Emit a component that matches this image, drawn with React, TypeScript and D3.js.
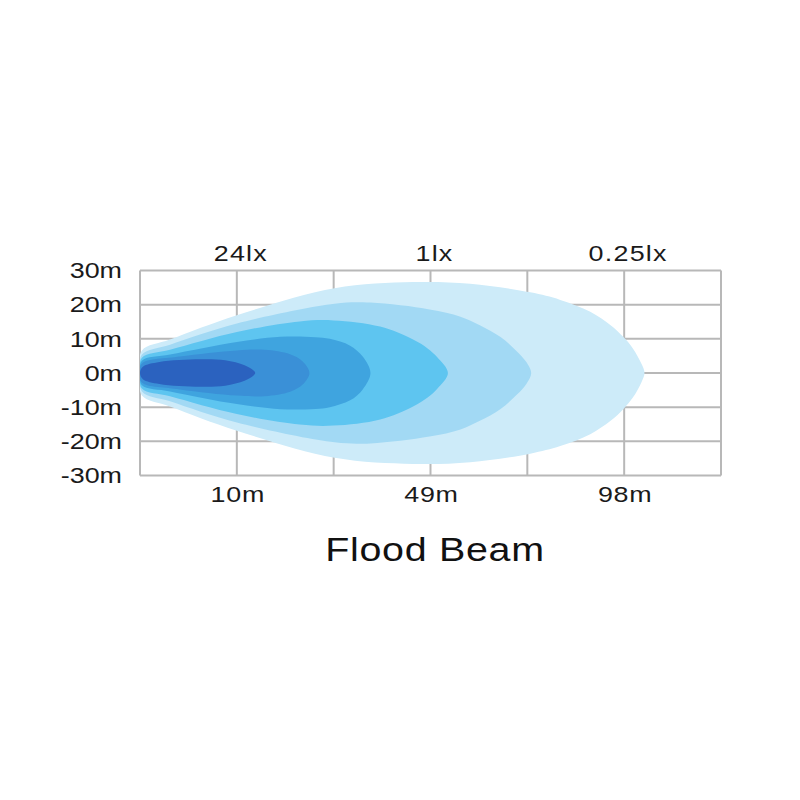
import React from "react";
import * as d3 from "d3";

// Column index 0..6 along the throw; labels at some columns
const distanceLabels = [
  { col: 1, text: "10m" },
  { col: 3, text: "49m" },
  { col: 5, text: "98m" },
];
const luxLabels = [
  { col: 1, text: "24lx" },
  { col: 3, text: "1lx" },
  { col: 5, text: "0.25lx" },
];
const yTicks = [30, 20, 10, 0, -10, -20, -30];
const xCols = [0, 1, 2, 3, 4, 5, 6];

// Upper half-profiles of each isolux zone: [column, metres]
const zoneOuter: [number, number][] = [
  [0, 0], [0.02, 6.6], [0.31, 9.8], [1.0, 16.9], [2.01, 24.8], [2.82, 26.6],
  [3.41, 26.1], [4.03, 23.6], [4.34, 21.4], [4.65, 17.9], [4.86, 14.0], [4.99, 10.6],
  [5.09, 7.2], [5.18, 2.6], [5.21, 0],
];
const zone2: [number, number][] = [
  [0, 0], [0.02, 5.4], [0.31, 8.3], [1.0, 14.5], [2.01, 20.3], [2.38, 20.6],
  [2.99, 18.6], [3.31, 16.5], [3.51, 14.0], [3.72, 10.6], [3.89, 6.4], [3.99, 3.2], [4.04, 0],
];
const zone3: [number, number][] = [
  [0, 0], [0.02, 4.5], [0.31, 6.8], [1.0, 12.0], [1.65, 15.1], [2.0, 15.4],
  [2.48, 13.6], [2.82, 9.8], [2.97, 7.2], [3.07, 4.6], [3.18, 0],
];
const zone4: [number, number][] = [
  [0, 0], [0.02, 3.6], [0.31, 5.4], [1.0, 9.1], [1.45, 10.6], [1.81, 10.5],
  [1.96, 10.0], [2.17, 8.0], [2.30, 4.8], [2.38, 0],
];
const zone5: [number, number][] = [
  [0, 0], [0.02, 2.8], [0.41, 4.8], [1.0, 6.6], [1.29, 6.8], [1.55, 5.5], [1.68, 3.4], [1.75, 0],
];
const zoneInner: [number, number][] = [
  [0, 0], [0.03, 1.8], [0.2, 3.2], [0.62, 4.0], [0.88, 3.7], [1.08, 2.25], [1.17, 0.8], [1.19, 0],
];
const zones = [zoneOuter, zone2, zone3, zone4, zone5, zoneInner];
const zoneColors = ["#cdebf9", "#a2d9f4", "#5ec5f0", "#3fa4df", "#3a90d7", "#2b62bf"];

const FONT = "'Liberation Sans', Arial, Helvetica, sans-serif";

function WideText(props: {
  x: number;
  y: number;
  anchor: "start" | "middle" | "end";
  size: number;
  sx: number;
  spacing?: number;
  children: string;
  fill?: string;
}) {
  return (
    <text
      transform={`translate(${props.x},${props.y}) scale(${props.sx},1)`}
      textAnchor={props.anchor}
      fontFamily={FONT}
      fontSize={props.size}
      letterSpacing={props.spacing || 0}
      fill={props.fill || "#1a1a1a"}
    >
      {props.children}
    </text>
  );
}

export default function App() {
  const x = d3.scaleLinear().domain([0, 6]).range([140, 721]);
  const y = d3.scaleLinear().domain([-30, 30]).range([475.5, 270.5]);
  const line = d3
    .line<[number, number]>()
    .x((d) => x(d[0]))
    .y((d) => y(d[1]))
    .curve(d3.curveCatmullRomClosed.alpha(0.5));

  const shapePath = (prof: [number, number][]) => {
    const bottom = prof
      .slice(1, prof.length - 1)
      .reverse()
      .map((p) => [p[0], -p[1]] as [number, number]);
    return line([...prof, ...bottom]) || "";
  };

  const grid = "#b8b8b8";
  return (
    <svg
      width={800}
      height={800}
      style={{ position: "absolute", left: 0, top: 0, background: "#fff" }}
    >
      <defs>
        <clipPath id="plot">
          <rect x={x(0)} y={y(30) - 1} width={x(6) - x(0)} height={y(-30) - y(30) + 2} />
        </clipPath>
      </defs>
      {xCols.map((c) => (
        <line key={"v" + c} x1={x(c)} x2={x(c)} y1={y(30)} y2={y(-30)} stroke={grid} strokeWidth={2} />
      ))}
      {yTicks.map((t) => (
        <line key={"h" + t} x1={x(0)} x2={x(6)} y1={y(t)} y2={y(t)} stroke={grid} strokeWidth={2} />
      ))}
      <g clipPath="url(#plot)">
        {zones.map((z, i) => (
          <path key={i} d={shapePath(z)} fill={zoneColors[i]} />
        ))}
      </g>
      {yTicks.map((t) => (
        <WideText key={"yl" + t} x={122} y={y(t) + 7.8} anchor="end" size={21.5} sx={1.25}>
          {t + "m"}
        </WideText>
      ))}
      {distanceLabels.map((d) => (
        <WideText key={"xb" + d.text} x={x(d.col) + 1} y={502} anchor="middle" size={21.5} sx={1.25} spacing={0.6}>
          {d.text}
        </WideText>
      ))}
      {luxLabels.map((d) => (
        <WideText key={"xt" + d.text} x={x(d.col) + 4} y={260.5} anchor="middle" size={21.5} sx={1.25} spacing={1}>
          {d.text}
        </WideText>
      ))}
      <WideText x={435} y={560.5} anchor="middle" size={34} sx={1.16} spacing={0.6} fill="#111">
        Flood Beam
      </WideText>
    </svg>
  );
}
